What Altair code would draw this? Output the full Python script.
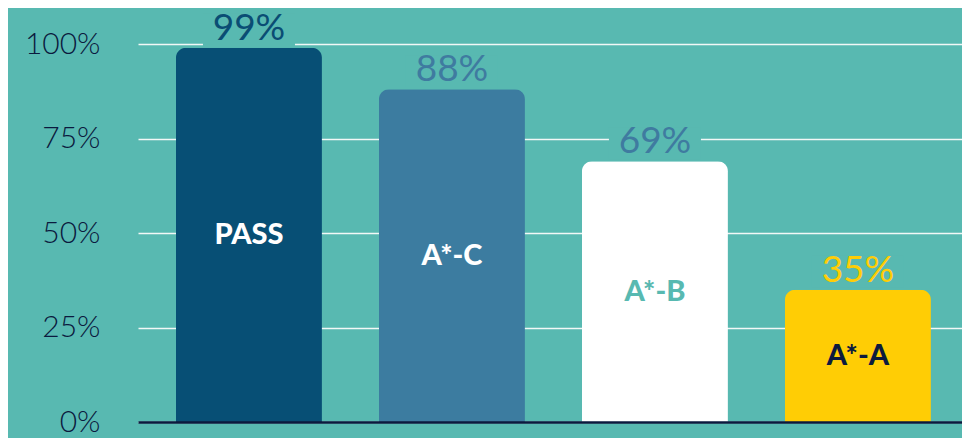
import altair as alt
import pandas as pd

categories = ["PASS", "A*-C", "A*-B", "A*-A"]
values = [99, 88, 69, 35]
tick_values = [0, 25, 50, 75, 100]

BG = "#58b9b1"
NAVY = "#0b1a3e"
BAR_COLORS = ["#074f75", "#3c7ca0", "#ffffff", "#ffcd05"]
VALUE_COLORS = ["#0a4d74", "#3f7ba0", "#3f7ba0", "#ffcd05"]
INNER_COLORS = ["#ffffff", "#ffffff", "#58b9b1", "#0c1a3e"]

df = pd.DataFrame({"cat": categories, "value": values})

x = alt.X(
    "cat:N",
    sort=categories,
    title=None,
    scale=alt.Scale(paddingInner=0.2808, paddingOuter=0.17, align=0.55),
    axis=alt.Axis(labels=False, ticks=False, domain=True, domainColor=NAVY,
                  domainWidth=2.5, grid=False, zindex=1),
)

y_axis = alt.Axis(
    values=tick_values,
    labelExpr="datum.value + '%'",
    ticks=False,
    domain=False,
    grid=True,
    gridColor="#f2f8f7",
    gridWidth=1.5,
    labelFont="Lato",
    labelFontSize=30,
    labelFontWeight=300,
    labelColor=NAVY,
    labelPadding=38,
)
yscale = alt.Scale(domain=[0, 100], nice=False)

base = alt.Chart(df).transform_calculate(
    lo="datum.value + 0.5",
    hi="datum.value + 9",
    mid="datum.value / 2",
    label="datum.value + '%'",
)

bars = base.mark_bar(cornerRadiusTopLeft=10, cornerRadiusTopRight=10).encode(
    x=x,
    y=alt.Y("value:Q", title=None, scale=yscale, axis=y_axis),
    color=alt.Color("cat:N", scale=alt.Scale(domain=categories, range=BAR_COLORS), legend=None),
)

boxes = base.mark_bar(width=92, color=BG).encode(
    x=x,
    y=alt.Y("hi:Q", title=None),
    y2="lo:Q",
)

value_text = base.mark_text(baseline="alphabetic", dy=-8, font="Lato", fontSize=37).encode(
    x=x,
    y=alt.Y("value:Q", title=None),
    text="label:N",
    color=alt.Color("cat:N", scale=alt.Scale(domain=categories, range=VALUE_COLORS), legend=None),
)

inner_text = base.mark_text(baseline="middle", font="Lato", fontWeight=900, fontSize=29).encode(
    x=x,
    y=alt.Y("mid:Q", title=None),
    text="cat:N",
    color=alt.Color("cat:N", scale=alt.Scale(domain=categories, range=INNER_COLORS), legend=None),
)

chart = (
    alt.layer(bars, boxes, value_text, inner_text)
    .resolve_scale(color="independent")
    .properties(
        width=824,
        height=378,
        background=BG,
        padding={"left": 130, "top": 36, "right": 0, "bottom": 16},
        autosize=alt.AutoSizeParams(type="none"),
    )
    .configure_view(stroke=None)
)

chart.save("out.html", embed_options={"renderer": "svg", "actions": False})
